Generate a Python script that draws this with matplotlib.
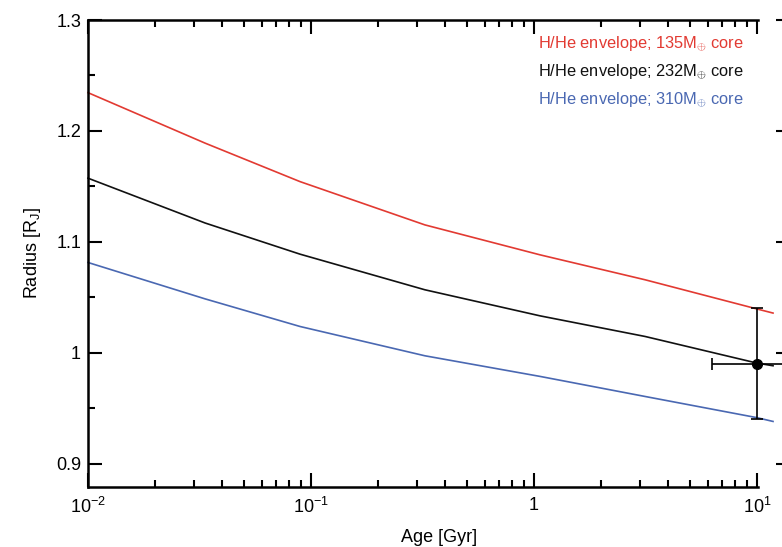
import matplotlib
matplotlib.use('Agg')
import matplotlib.pyplot as plt
from matplotlib.ticker import FixedLocator, MultipleLocator, NullFormatter

plt.rcParams['font.family'] = ['Liberation Sans', 'DejaVu Sans']
plt.rcParams['mathtext.fontset'] = 'custom'
plt.rcParams['mathtext.rm'] = 'Liberation Sans'
plt.rcParams['mathtext.it'] = 'Liberation Sans'

# Model curves (age in Gyr, radius in R_J)
age = [0.01, 0.0335, 0.0893, 0.324, 1.064, 3.15, 10.0, 11.8]
radius_135 = [1.2345, 1.189, 1.1543, 1.1153, 1.0883, 1.0658, 1.0395, 1.0358]
radius_232 = [1.1574, 1.117, 1.0889, 1.0568, 1.0333, 1.0147, 0.9907, 0.9883]
radius_310 = [1.0814, 1.0486, 1.0237, 0.9973, 0.9787, 0.9606, 0.9415, 0.9381]

# Observed planet
obs_age = 10.0
obs_age_err = 3.7
obs_radius = 0.99
obs_radius_err = 0.05

labels = ['H/He envelope; 135M$_{\\oplus}$ core',
          'H/He envelope; 232M$_{\\oplus}$ core',
          'H/He envelope; 310M$_{\\oplus}$ core']
colors = ['#e23a32', '#111111', '#4a68b2']

x_ticks = [0.01, 0.1, 1, 10]
x_ticklabels = ['$\\mathregular{10^{-2}}$', '$\\mathregular{10^{-1}}$', '1', '$\\mathregular{10^{1}}$']
y_ticks = [0.9, 1.0, 1.1, 1.2, 1.3]
y_ticklabels = ['0.9', '1', '1.1', '1.2', '1.3']

W, H = 782, 547
fig = plt.figure(figsize=(W / 100, H / 100), dpi=100)
left, right, top, bottom = 88, 790, 20, 487
ax = fig.add_axes([left / W, (H - bottom) / H, (right - left) / W, (bottom - top) / H])

for r, c in zip([radius_135, radius_232, radius_310], colors):
    ax.plot(age, r, color=c, lw=1.2, clip_on=False)

ax.errorbar(obs_age, obs_radius, xerr=obs_age_err, yerr=obs_radius_err,
            fmt='o', color='black', ms=7, elinewidth=1.2, capsize=4,
            capthick=1.2, clip_on=False, zorder=5)

ax.set_xscale('log')
ax.set_xlim(0.01, 14.06)
ax.set_ylim(0.879, 1.3)

ax.xaxis.set_major_locator(FixedLocator(x_ticks))
ax.set_xticklabels(x_ticklabels)
minors = [m * 10.0 ** e for e in (-2, -1, 0) for m in range(2, 10)]
ax.xaxis.set_minor_locator(FixedLocator(minors))
ax.xaxis.set_minor_formatter(NullFormatter())
ax.set_yticks(y_ticks)
ax.set_yticklabels(y_ticklabels)
ax.yaxis.set_minor_locator(MultipleLocator(0.05))

ax.tick_params(which='both', direction='in', top=True, right=True, width=1.5,
               labelsize=13, colors='black')
ax.tick_params(which='major', length=10)
ax.tick_params(which='minor', length=5)
ax.tick_params(axis='x', pad=7)
ax.tick_params(axis='y', pad=5)

for s in ['top', 'bottom', 'left']:
    ax.spines[s].set_linewidth(1.8)
ax.spines['top'].set_bounds(0.01, 10.1)
ax.spines['bottom'].set_bounds(0.01, 10.1)
ax.spines['right'].set_color('none')

ax.set_xlabel('Age [Gyr]', fontsize=13, labelpad=9)
ax.set_ylabel('Radius [R$_{\\mathregular{J}}$]', fontsize=13, labelpad=9)

for i, (lab, c) in enumerate(zip(labels, colors)):
    fig.text(538 / W, 1 - (44 + 28 * i) / H, lab, color=c, fontsize=11.8,
             ha='left', va='center')

fig.savefig('out.png', dpi=100)
